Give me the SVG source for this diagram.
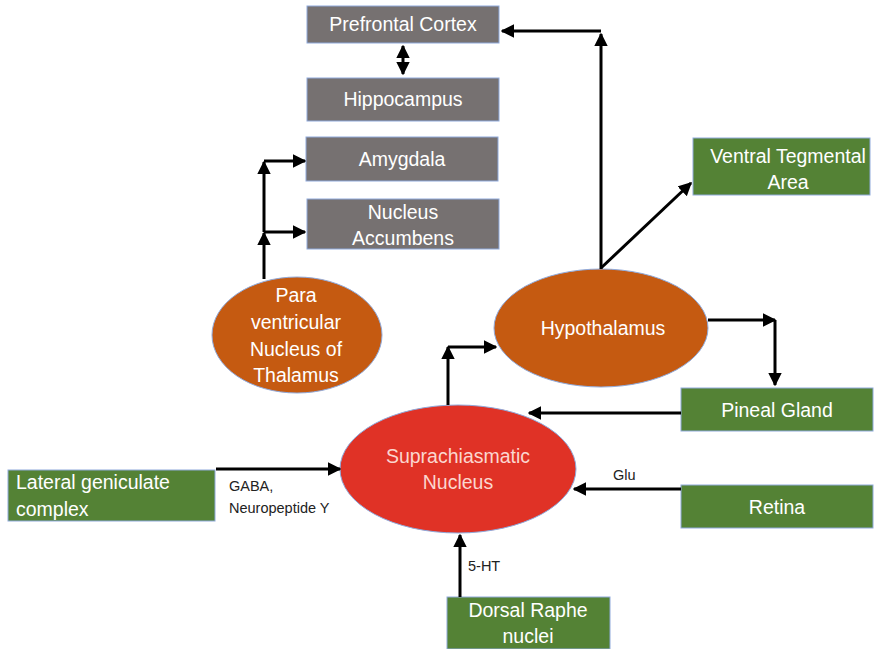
<svg xmlns="http://www.w3.org/2000/svg" width="881" height="649" viewBox="0 0 881 649">
<defs>
<marker id="ah" viewBox="0 0 10 10" refX="9" refY="5" markerWidth="4.5" markerHeight="4.5" orient="auto-start-reverse" markerUnits="strokeWidth">
<path d="M0,0 L10,5 L0,10 z" fill="#000"/>
</marker>
<style>
.gray{fill:#767171;stroke:#8faadc;stroke-width:1}
.green{fill:#548235;stroke:#8faadc;stroke-width:1}
.orange{fill:#c55a11;stroke:#8faadc;stroke-width:1}
.red{fill:#e03226;stroke:#8faadc;stroke-width:1}
.t{font-family:"Liberation Sans",Arial,sans-serif;font-size:19.5px;fill:#fff;text-anchor:middle}
.tl{font-family:"Liberation Sans",Arial,sans-serif;font-size:19.5px;fill:#fff}
.lab{font-family:"Liberation Sans",Arial,sans-serif;font-size:14.5px;fill:#222}
.c{fill:none;stroke:#000;stroke-width:3}
</style>
</defs>
<g id="pfc"><rect class="gray" x="307" y="6" width="192" height="37"/><text class="t" x="403" y="31">Prefrontal Cortex</text></g>
<g id="hippocampus"><rect class="gray" x="307" y="78" width="192" height="43"/><text class="t" x="403" y="106">Hippocampus</text></g>
<g id="amygdala"><rect class="gray" x="306" y="137" width="192" height="44"/><text class="t" x="402" y="166">Amygdala</text></g>
<g id="accumbens"><rect class="gray" x="307" y="199" width="192" height="50"/><text class="t" x="403" y="219">Nucleus</text><text class="t" x="403" y="245">Accumbens</text></g>
<g id="pvn"><ellipse class="orange" cx="297" cy="335" rx="85" ry="58"/><text class="t" x="296" y="302">Para</text><text class="t" x="296" y="329">ventricular</text><text class="t" x="296" y="356">Nucleus of</text><text class="t" x="296" y="382">Thalamus</text></g>
<g id="hypothalamus"><ellipse class="orange" cx="601" cy="328" rx="107" ry="59"/><text class="t" x="603" y="335">Hypothalamus</text></g>
<g id="vta"><rect class="green" x="693" y="138" width="177" height="57"/><text class="t" x="788" y="163">Ventral Tegmental</text><text class="t" x="788" y="189">Area</text></g>
<g id="pineal"><rect class="green" x="681" y="388" width="192" height="43"/><text class="t" x="777" y="417">Pineal Gland</text></g>
<g id="scn"><ellipse class="red" cx="458" cy="469" rx="118" ry="64"/><text class="t" x="458" y="463" style="fill:#fbd6cf">Suprachiasmatic</text><text class="t" x="458" y="489" style="fill:#fbd6cf">Nucleus</text></g>
<g id="retina"><rect class="green" x="681" y="485" width="192" height="43"/><text class="t" x="777" y="514">Retina</text></g>
<g id="lgc"><rect class="green" x="8" y="470" width="207" height="51"/><text class="tl" x="16" y="489">Lateral geniculate</text><text class="tl" x="16" y="516">complex</text></g>
<g id="drn"><rect class="green" x="447" y="597" width="163" height="52"/><text class="t" x="528" y="617">Dorsal Raphe</text><text class="t" x="528" y="643">nuclei</text></g>
<g id="connectors">
<path class="c" d="M403,46 L403,74" marker-start="url(#ah)" marker-end="url(#ah)"/>
<path class="c" d="M601,269 L601,34" marker-end="url(#ah)"/>
<path class="c" d="M601,31 L502,31" marker-end="url(#ah)"/>
<path class="c" d="M601,268 L691,183" marker-end="url(#ah)"/>
<path class="c" d="M708,320 L775,320" marker-end="url(#ah)"/>
<path class="c" d="M775,320 L775,385" marker-end="url(#ah)"/>
<path class="c" d="M681,413 L529,413" marker-end="url(#ah)"/>
<path class="c" d="M681,489 L574,489" marker-end="url(#ah)"/>
<path class="c" d="M216,469 L340,469" marker-end="url(#ah)"/>
<path class="c" d="M460,597 L460,535" marker-end="url(#ah)"/>
<path class="c" d="M448,405 L448,347" marker-end="url(#ah)"/>
<path class="c" d="M448,347 L496,347" marker-end="url(#ah)"/>
<path class="c" d="M264,279 L264,233" marker-end="url(#ah)"/>
<path class="c" d="M264,232 L305,232" marker-end="url(#ah)"/>
<path class="c" d="M264,232 L264,162" marker-end="url(#ah)"/>
<path class="c" d="M264,161 L305,161" marker-end="url(#ah)"/>
</g>
<g id="labels">
<text class="lab" x="229" y="491">GABA,</text>
<text class="lab" x="229" y="513">Neuropeptide Y</text>
<text class="lab" x="613" y="480">Glu</text>
<text class="lab" x="468" y="571">5-HT</text>
</g>
</svg>
